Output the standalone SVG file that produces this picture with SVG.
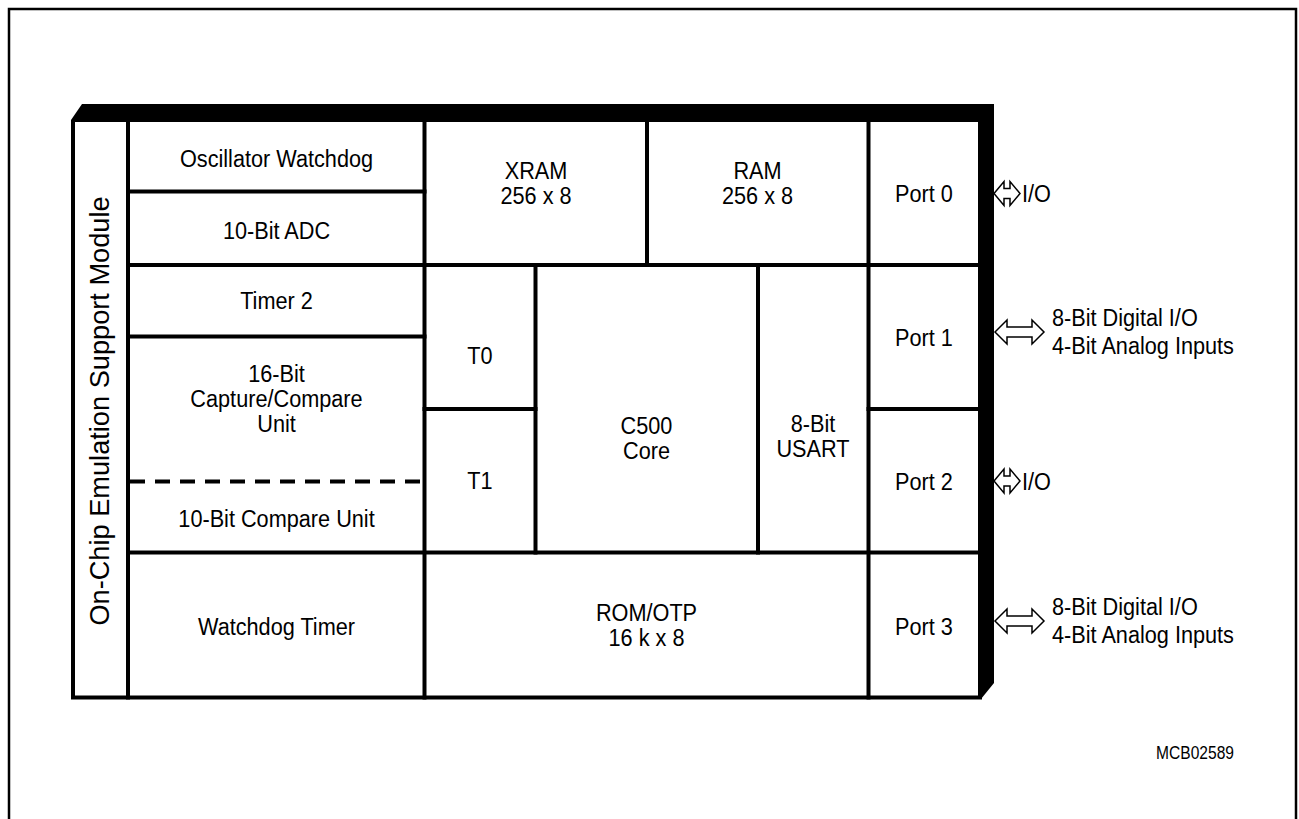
<svg xmlns="http://www.w3.org/2000/svg" width="1299" height="819" viewBox="0 0 1299 819">
<style>
.ln{stroke:#000;stroke-width:4;fill:none;stroke-linecap:square}
.dash{stroke:#000;stroke-width:4;fill:none;stroke-dasharray:15 10}
.lbl{font-family:"Liberation Sans",Arial,Helvetica,sans-serif;font-size:24.5px;fill:#000;text-anchor:middle}
.ext{font-family:"Liberation Sans",Arial,Helvetica,sans-serif;font-size:24.5px;fill:#000;text-anchor:start}
.side{font-family:"Liberation Sans",Arial,Helvetica,sans-serif;font-size:27.2px;fill:#000;text-anchor:middle}
.code{font-family:"Liberation Sans",Arial,Helvetica,sans-serif;font-size:19px;fill:#000;text-anchor:end}
.arr{fill:#fff;stroke:#000;stroke-width:1.5;stroke-linejoin:miter}
</style>
<defs>
<path id="dblS" d="M0,0 L10,-12 L10,-5 L16,-5 L16,-12 L26,0 L16,12 L16,5 L10,5 L10,12 Z"/>
<path id="dblL" d="M0,0 L12,-12 L12,-5 L37,-5 L37,-12 L49,0 L37,12 L37,5 L12,5 L12,12 Z"/>
</defs>
<rect x="9" y="9" width="1287" height="830" fill="none" stroke="#000" stroke-width="2.5"/>
<g id="shadow">
<polygon points="71,120 82,104 994,104 994,683 981,699 981,122 71,122" fill="#000"/>
</g>
<g id="grid">
<path class="ln" d="M73,122 L73,697.5 L980,697.5 L980,122"/>
<path class="ln" d="M128,122 V697.5 M424.5,122 V697.5 M868.5,122 V697.5 M647,122 V265 M535.5,265 V552.5 M758,265 V552.5"/>
<path class="ln" d="M128,191.5 H424.5 M128,265 H980 M128,336.5 H424.5 M424.5,409 H535.5 M868.5,409 H980 M128,552.5 H980"/>
<path class="dash" d="M130,481.5 H424"/>
</g>
<g id="side-module"><text class="side" transform="translate(109,411) rotate(-90)">On-Chip Emulation Support Module</text></g>
<g id="osc-watchdog"><text class="lbl" transform="translate(276.5,166.5) scale(0.885,1)">Oscillator Watchdog</text></g>
<g id="adc"><text class="lbl" transform="translate(276.5,239) scale(0.885,1)">10-Bit ADC</text></g>
<g id="xram"><text class="lbl" transform="translate(536,179) scale(0.885,1)"><tspan x="0" y="0">XRAM</tspan><tspan x="0" y="25">256 x 8</tspan></text></g>
<g id="ram"><text class="lbl" transform="translate(757.5,179) scale(0.885,1)"><tspan x="0" y="0">RAM</tspan><tspan x="0" y="25">256 x 8</tspan></text></g>
<g id="port0"><text class="lbl" transform="translate(924,202) scale(0.885,1)">Port 0</text></g>
<g id="timer2"><text class="lbl" transform="translate(276.5,309) scale(0.885,1)">Timer 2</text></g>
<g id="capcom"><text class="lbl" transform="translate(276.5,382) scale(0.885,1)"><tspan x="0" y="0">16-Bit</tspan><tspan x="0" y="25">Capture/Compare</tspan><tspan x="0" y="50">Unit</tspan></text></g>
<g id="compare10"><text class="lbl" transform="translate(276.5,527) scale(0.885,1)">10-Bit Compare Unit</text></g>
<g id="t0"><text class="lbl" transform="translate(480,364) scale(0.885,1)">T0</text></g>
<g id="t1"><text class="lbl" transform="translate(480,489) scale(0.885,1)">T1</text></g>
<g id="core"><text class="lbl" transform="translate(646.5,434) scale(0.885,1)"><tspan x="0" y="0">C500</tspan><tspan x="0" y="25">Core</tspan></text></g>
<g id="usart"><text class="lbl" transform="translate(813,432) scale(0.885,1)"><tspan x="0" y="0">8-Bit</tspan><tspan x="0" y="25">USART</tspan></text></g>
<g id="port1"><text class="lbl" transform="translate(924,346) scale(0.885,1)">Port 1</text></g>
<g id="port2"><text class="lbl" transform="translate(924,490) scale(0.885,1)">Port 2</text></g>
<g id="wdt"><text class="lbl" transform="translate(276.5,635) scale(0.885,1)">Watchdog Timer</text></g>
<g id="rom"><text class="lbl" transform="translate(646.5,621) scale(0.885,1)"><tspan x="0" y="0">ROM/OTP</tspan><tspan x="0" y="25">16 k x 8</tspan></text></g>
<g id="port3"><text class="lbl" transform="translate(924,635) scale(0.885,1)">Port 3</text></g>
<g id="connectors">
<use href="#dblS" class="arr" x="994" y="193.5"/>
<use href="#dblL" class="arr" x="995" y="332"/>
<use href="#dblS" class="arr" x="994" y="481"/>
<use href="#dblL" class="arr" x="995" y="621"/>
</g>
<g id="io0"><text class="ext" transform="translate(1022,202) scale(0.885,1)">I/O</text></g>
<g id="io1"><text class="ext" transform="translate(1052,326) scale(0.885,1)"><tspan x="0" y="0">8-Bit Digital I/O</tspan><tspan x="0" y="28">4-Bit Analog Inputs</tspan></text></g>
<g id="io2"><text class="ext" transform="translate(1022,490) scale(0.885,1)">I/O</text></g>
<g id="io3"><text class="ext" transform="translate(1052,615) scale(0.885,1)"><tspan x="0" y="0">8-Bit Digital I/O</tspan><tspan x="0" y="28">4-Bit Analog Inputs</tspan></text></g>
<g id="code"><text class="code" transform="translate(1234,759) scale(0.82,1)" x="0" y="0">MCB02589</text></g>
</svg>
